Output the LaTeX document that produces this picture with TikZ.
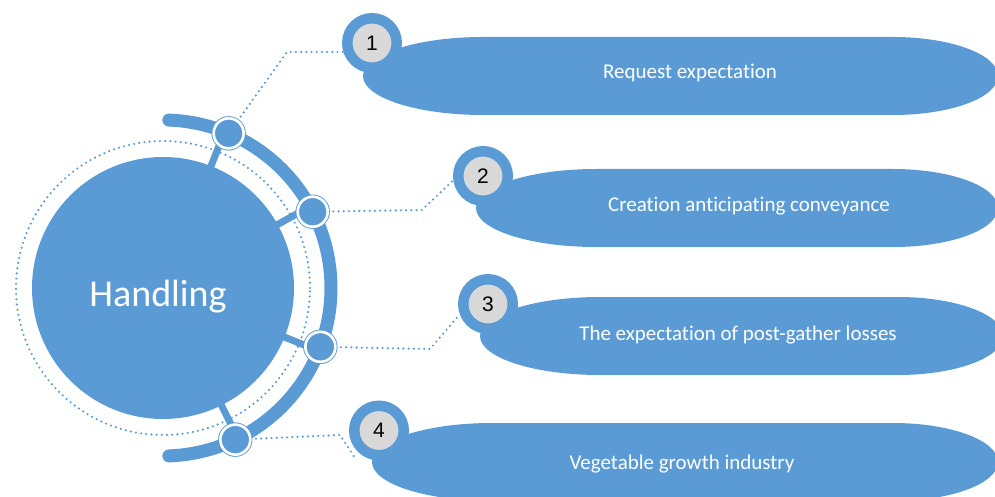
\documentclass[tikz,border=0pt]{standalone}
\usepackage{fontspec}
\setmainfont{Carlito}[Ligatures=NoCommon]
\newfontfamily\numfont{Liberation Sans}
\usetikzlibrary{calc,backgrounds}
\definecolor{deckblue}{HTML}{5B9BD5}
\definecolor{badgegray}{HTML}{D9D9D9}
\tikzset{
  hub/.style={circle,fill=deckblue,minimum size=262pt,inner sep=0pt},
  hubtext/.style={text=white,font=\fontsize{38}{40}\selectfont},
  ring/.style={draw=deckblue,line width=13pt,line cap=round},
  spoke/.style={draw=deckblue,line width=7pt},
  knob/.style={circle,fill=deckblue,draw=deckblue,line width=0.9pt,double=white,
    double distance=2.6pt,minimum size=30pt,inner sep=0pt},
  badge/.style={circle,fill=badgegray,draw=deckblue,line width=10.5pt,
    minimum size=49.5pt,inner sep=0pt,font=\numfont\fontsize{21}{21}\selectfont},
  bannertext/.style={text=white,font=\fontsize{21}{24}\selectfont},
  dots/.style={draw=deckblue,line width=2.4pt,line cap=round,dash pattern=on 0pt off 5.2pt}
}
\begin{document}
\begin{tikzpicture}[x=1pt,y=1pt]
    \useasboundingbox (0,0) rectangle (995,496);
    % banners: elliptic left and right ends
    \foreach \y/\l/\r in {420/483/893, 288/596/893, 160/600/898, 34/492/893}
      \fill[deckblue] (\l,\y+39) -- (\r,\y+39)
        arc[start angle=90,end angle=-90,x radius=105pt,y radius=39pt]
        -- (\l,\y-39)
        arc[start angle=-90,end angle=-270,x radius=120pt,y radius=39pt] -- cycle;
    \path (690,423) node[bannertext] (t1) {Request expectation}
          (749,290) node[bannertext] (t2) {Creation anticipating conveyance}
          (738,161) node[bannertext] (t3) {The expectation of post-gather losses}
          (682,32) node[bannertext] (t4) {Vegetable growth industry};

    \path (163,208) node[hub] (hub) {};
    \path (158,199) node[hubtext] (hubname) {Handling};
    \draw[dots] (hub.center) circle (147pt);
    \draw[ring] ($(hub.center)+(-88:168)$) arc[start angle=-88,end angle=88,radius=168pt];
    \foreach \a in {68.5,29,-22,-63.5}
      \draw[spoke] ($(hub.center)+(\a:128)$) -- ($(hub.center)+(\a:163)$);
    \foreach \a [count=\i] in {67,27,-20.5,-64.5}
      \path ($(hub.center)+(\a:168)$) node[knob] (d\i) {};

    \path (372,453) node[badge] (b1) {1}
          (483,320) node[badge] (b2) {2}
          (488,192) node[badge] (b3) {3}
          (379,65.5) node[badge] (b4) {4};

    \coordinate (k1) at (287,444);
    \coordinate (k2) at (422,286);
    \coordinate (k3) at (430,147);
    \coordinate (k4) at (340,61);
    \coordinate (e4) at (355,38);
    \begin{scope}[on background layer]
      \draw[dots] (d1) -- (k1) -- (k1 -| b1.center);
      \draw[dots] (d2) -- (k2) -- (b2.188);
      \draw[dots] (d3) -- (k3) -- (b3.200);
      \draw[dots] (d4) -- (k4) -- (e4);
    \end{scope}
\end{tikzpicture}
\end{document}
